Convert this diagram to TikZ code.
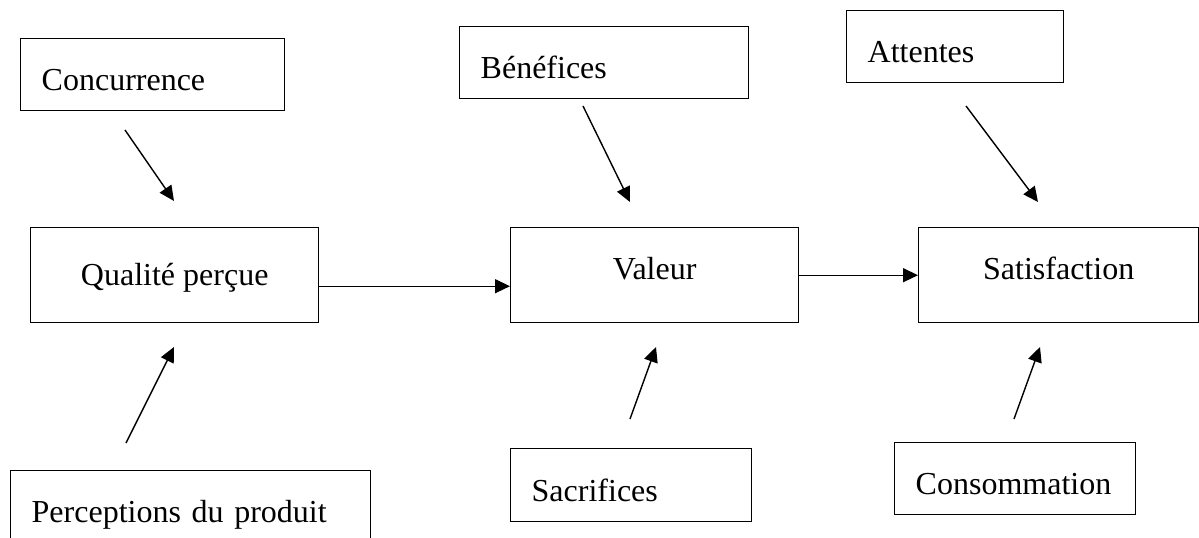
\documentclass[tikz,border=0pt]{standalone}
\usepackage{fontspec}
\setmainfont{Liberation Serif}
\usetikzlibrary{arrows.meta}

\tikzset{
  sidebox/.style={draw, line width=0.7pt, anchor=north west, align=left,
    inner xsep=10.5pt, minimum height=36pt, text height=16pt, text depth=0pt},
  midbox/.style={draw, line width=0.7pt, anchor=north west, align=center,
    minimum width=144pt, minimum height=47.5pt, text height=4pt, text depth=0pt},
  link/.style={-{Triangle[length=7.5pt, width=7pt]}, line width=0.7pt}
}

\begin{document}
\begin{tikzpicture}[x=0.5pt, y=-0.5pt, font=\fontsize{16}{19}\selectfont]
      \clip (0,0) rectangle (1199,537);

      % Central chain
      \node[midbox, text height=10pt] (qual) at (30,227) {Qualité perçue};
      \node[midbox] (val) at (510,227) {Valeur};
      \node[midbox, minimum width=140pt] (sat) at (918,227) {Satisfaction};

      % Antecedents
      \node[sidebox, text width=111pt]   (conc) at (20,38)   {Concurrence};
      \node[sidebox, text width=159pt]   (perc) at (10,470)  {Perceptions du produit};
      \node[sidebox, text width=123.5pt] (bene) at (459,26)  {Bénéfices};
      \node[sidebox, text width=99.5pt, minimum height=36.5pt] (sacr) at (510,448) {Sacrifices};
      \node[sidebox, text width=87.5pt]  (att)  at (846,10)  {Attentes};
      \node[sidebox, text width=99.5pt]  (cons) at (894,442) {Consommation};

      % Arrow ends (free-standing)
      \coordinate (c1) at (125,130);  \coordinate (q1) at (174,201);
      \coordinate (p1) at (126,443);  \coordinate (q2) at (174,347);
      \coordinate (b1) at (583,106);  \coordinate (v1) at (630,202);
      \coordinate (s1) at (630,419);  \coordinate (v2) at (656,347);
      \coordinate (a1) at (966,106);  \coordinate (t1) at (1038,202);
      \coordinate (n1) at (1014,419); \coordinate (t2) at (1040,347);

      % Main flow
      \draw[link] ([yshift=-5.5pt]qual.east) -- ([yshift=-5.5pt]val.west);
      \draw[link] (val.east) -- (sat.west);

      % Influences
      \draw[link] (c1) -- (q1);
      \draw[link] (p1) -- (q2);
      \draw[link] (b1) -- (v1);
      \draw[link] (s1) -- (v2);
      \draw[link] (a1) -- (t1);
      \draw[link] (n1) -- (t2);
    \end{tikzpicture}
\end{document}
